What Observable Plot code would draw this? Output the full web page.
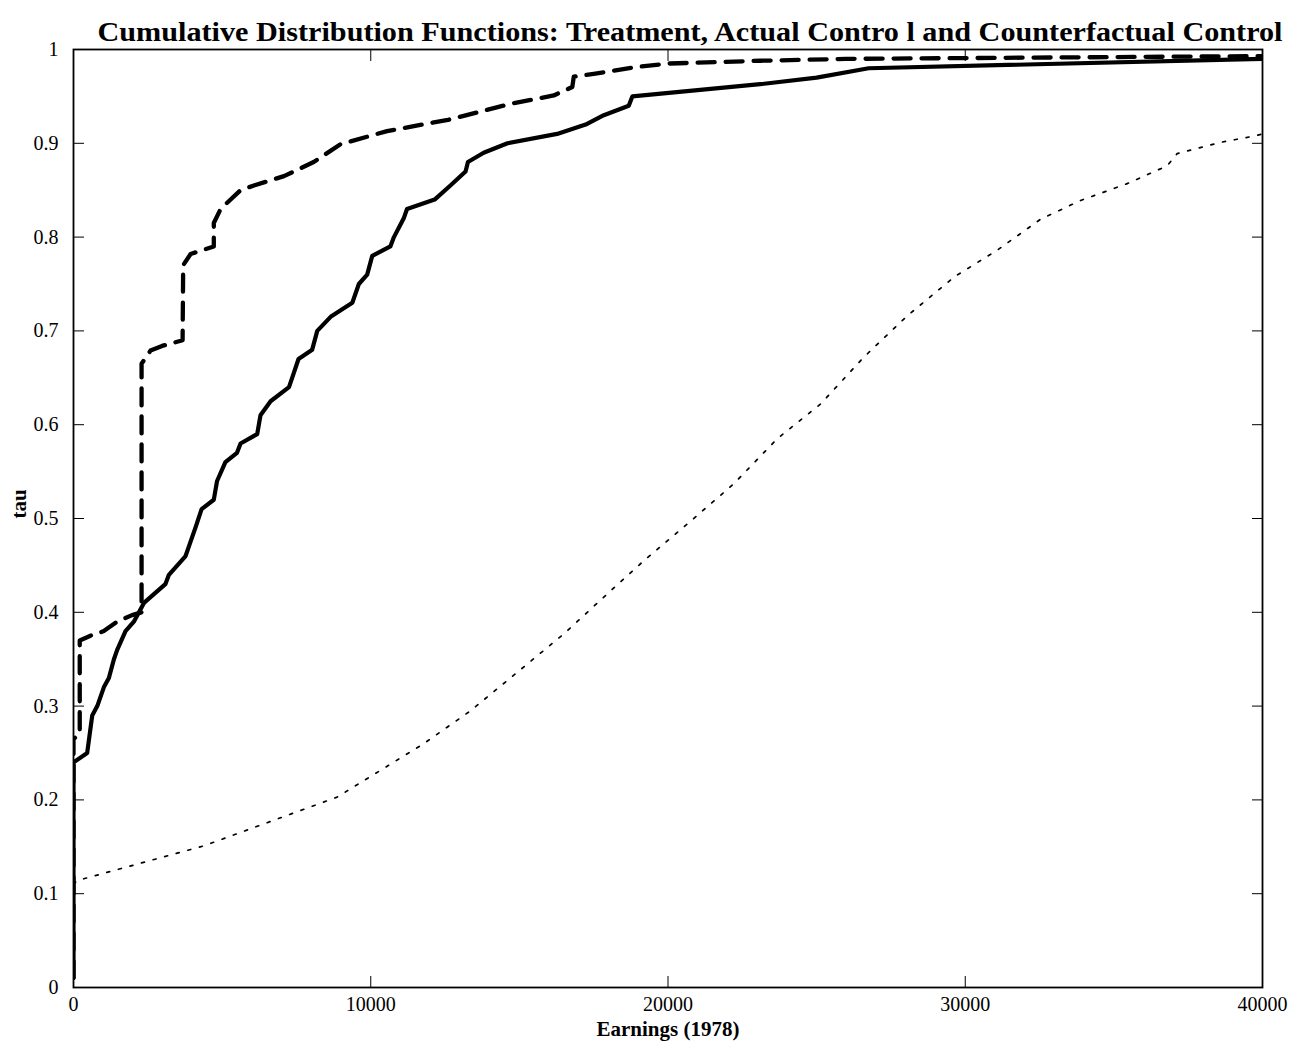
<!DOCTYPE html>
<html>
<head>
<meta charset="utf-8">
<script src="https://cdn.jsdelivr.net/npm/d3@7"></script>
<script src="https://cdn.jsdelivr.net/npm/@observablehq/plot@0.6"></script>
<style>
  body { margin: 0; background: #fff; }
  #chart svg { display: block; }
</style>
</head>
<body>
<div id="chart"></div>
<script>
// ---- Data ----
const titleText = "Cumulative Distribution Functions: Treatment, Actual Contro l and Counterfactual Control";
const xLabel = "Earnings (1978)";
const yLabel = "tau";
const xTicks = [0, 10000, 20000, 30000, 40000];
const yTicks = [0, 0.1, 0.2, 0.3, 0.4, 0.5, 0.6, 0.7, 0.8, 0.9, 1];
const yTickLabels = ["0", "0.1", "0.2", "0.3", "0.4", "0.5", "0.6", "0.7", "0.8", "0.9", "1"];

// Solid curve: treatment
const treatmentEarnings = [0, 0, 460, 630, 800, 1020, 1190, 1360, 1470, 1750, 2030, 2370, 3090, 3210, 3770, 3880, 4100, 4310, 4720, 4830, 5110, 5500, 5620, 6180, 6290, 6630, 7250, 7410, 7570, 8030, 8200, 8650, 9380, 9600, 9880, 10050, 10660, 10780, 11110, 11220, 12150, 12680, 13190, 13270, 13800, 14600, 16270, 17230, 17840, 18680, 18800, 23100, 25000, 26750, 40000];
const treatmentTau = [0.01, 0.24, 0.25, 0.29, 0.30, 0.32, 0.33, 0.35, 0.36, 0.38, 0.39, 0.41, 0.43, 0.44, 0.46, 0.47, 0.49, 0.51, 0.52, 0.54, 0.56, 0.57, 0.58, 0.59, 0.61, 0.625, 0.64, 0.655, 0.67, 0.68, 0.70, 0.715, 0.73, 0.75, 0.76, 0.78, 0.79, 0.80, 0.82, 0.83, 0.84, 0.855, 0.87, 0.88, 0.89, 0.90, 0.91, 0.92, 0.93, 0.94, 0.95, 0.963, 0.97, 0.98, 0.99];

// Dashed curve: actual control
const actualControlEarnings = [0, 0, 210, 210, 570, 1020, 1470, 1970, 2290, 2290, 2590, 2980, 3670, 3690, 3940, 4720, 4720, 4950, 5620, 6070, 7080, 8080, 8980, 10550, 12600, 14700, 16160, 16780, 16830, 17500, 18850, 20000, 23100, 26000, 40000];
const actualControlTau = [0.01, 0.265, 0.27, 0.37, 0.375, 0.38, 0.39, 0.397, 0.40, 0.665, 0.679, 0.684, 0.69, 0.77, 0.782, 0.79, 0.815, 0.83, 0.85, 0.855, 0.865, 0.88, 0.899, 0.913, 0.925, 0.942, 0.951, 0.96, 0.971, 0.974, 0.981, 0.985, 0.988, 0.99, 0.993];

// Dotted curve: counterfactual control
const counterfactualEarnings = [0, 124, 4384, 8870, 11785, 13356, 14813, 16496, 17729, 19186, 20645, 22214, 23673, 25130, 26588, 28047, 29650, 31075, 32531, 33877, 35448, 36793, 37130, 38587, 39765, 40000];
const counterfactualTau = [0.11, 0.114, 0.151, 0.203, 0.26, 0.295, 0.333, 0.377, 0.413, 0.455, 0.494, 0.537, 0.585, 0.622, 0.672, 0.716, 0.758, 0.786, 0.819, 0.839, 0.857, 0.876, 0.889, 0.901, 0.908, 0.91];

// ---- Build tables ----
const toRows = (xs, ts) => xs.map((x, i) => ({x, tau: ts[i]}));
const treatment = toRows(treatmentEarnings, treatmentTau);
const actualControl = toRows(actualControlEarnings, actualControlTau);
const counterfactual = toRows(counterfactualEarnings, counterfactualTau);

const fmtY = d => yTickLabels[yTicks.indexOf(d)] ?? String(d);

const chart = Plot.plot({
  width: 1303,
  height: 1053,
  marginLeft: 73,
  marginRight: 41,
  marginTop: 49,
  marginBottom: 66,
  style: {
    fontFamily: "'Liberation Serif', 'Times New Roman', Times, serif",
    fontSize: "20px",
    background: "#fff",
    color: "#000"
  },
  x: {domain: [0, 40000], label: null},
  y: {domain: [0, 1], label: null},
  marks: [
    Plot.line(counterfactual, {x: "x", y: "tau", stroke: "#000", strokeWidth: 1.7, strokeDasharray: "3,9", clip: true}),
    Plot.line(actualControl, {x: "x", y: "tau", stroke: "#000", strokeWidth: 4.3, strokeDasharray: "17,11", clip: true}),
    Plot.line(treatment, {x: "x", y: "tau", stroke: "#000", strokeWidth: 4.2, clip: true}),
    // frame
    Plot.frame({stroke: "#000", strokeWidth: 1.8}),
    // tick labels
    Plot.axisX({ticks: xTicks, tickSize: 0, tickPadding: 9, tickFormat: d => String(d), label: null, fontSize: 20}),
    Plot.axisY({ticks: yTicks, tickSize: 0, tickPadding: 15, tickFormat: fmtY, label: null, fontSize: 20}),
    // inward ticks on all four sides
    Plot.axisX({ticks: xTicks, anchor: "bottom", tickSize: -11, fill: "none", label: null}),
    Plot.axisX({ticks: xTicks, anchor: "top", tickSize: -11, fill: "none", label: null}),
    Plot.axisY({ticks: yTicks, anchor: "left", tickSize: -11, fill: "none", label: null}),
    Plot.axisY({ticks: yTicks, anchor: "right", tickSize: -11, fill: "none", label: null}),
    // title and axis labels
    Plot.text([titleText], {text: d => d, frameAnchor: "top", dx: 22, dy: -28, fontWeight: "bold", fontSize: 27}),
    Plot.text([xLabel], {text: d => d, frameAnchor: "bottom", dy: 48, fontWeight: "bold", fontSize: 21}),
    Plot.text([yLabel], {text: d => d, frameAnchor: "left", dx: -54, rotate: -90, fontWeight: "bold", fontSize: 21})
  ]
});
// condense title to the reference width
d3.select(chart).selectAll("text").filter(function() { return this.textContent === titleText; })
  .attr("textLength", 1185).attr("lengthAdjust", "spacingAndGlyphs");
document.getElementById("chart").appendChild(chart);
</script>
</body>
</html>
